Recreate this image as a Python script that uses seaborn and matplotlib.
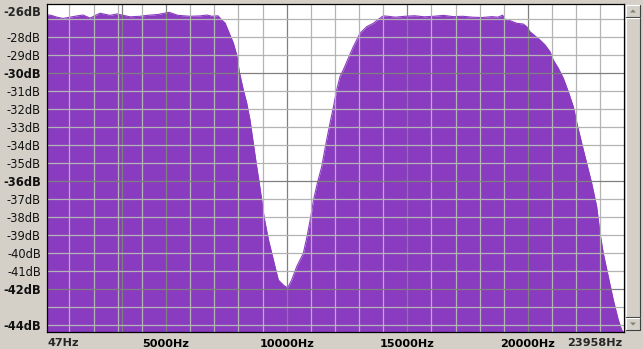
import matplotlib
matplotlib.use("Agg")
import matplotlib.pyplot as plt
import seaborn as sns
import numpy as np
from matplotlib.patches import Rectangle, Polygon

# ---------------- data ----------------
flat1_hz = [47, 192, 482, 731, 1021, 1311, 1560, 1850, 2264, 2679, 2968, 3507,
            3922, 4212, 4668, 5124, 5497, 5994, 6408, 6698, 6905, 7154]
flat1_db = [-26.80, -26.78, -26.90, -26.97, -26.90, -26.83, -26.78, -26.95, -26.68,
            -26.80, -26.72, -26.88, -26.85, -26.80, -26.75, -26.63, -26.80, -26.85,
            -26.83, -26.78, -26.85, -26.82]

notch_hz = [7307, 7444, 7651, 7788, 7929, 8037, 8202, 8343, 8480, 8617, 8758, 8865,
            8965, 9060, 9164, 9247, 9379, 9516, 9653, 9860, 10001, 10067, 10208,
            10415, 10689, 10842, 11000, 11111, 11269, 11451, 11629, 11795, 11940,
            12073, 12210, 12346, 12554, 12761, 12902, 13038, 13175, 13316, 13590,
            13797]
notch_db = [-27.06, -27.22, -27.89, -28.33, -29.00, -29.94, -30.94, -31.67, -32.61,
            -33.91, -35.21, -36.13, -37.06, -37.98, -38.72, -39.28, -40.00, -40.76,
            -41.50, -41.78, -41.91, -41.87, -41.50, -40.76, -40.02, -39.09, -37.98,
            -37.06, -36.13, -35.21, -33.91, -32.79, -31.87, -30.94, -30.20, -29.83,
            -29.18, -28.54, -28.17, -27.79, -27.61, -27.43, -27.24, -27.02]

flat2_hz = [14000, 14200, 14500, 14900, 15300, 15700, 16100, 16500, 16900, 17300,
            17700, 18100, 18500, 18750, 18950]
flat2_db = [-26.83, -26.85, -26.90, -26.85, -26.82, -26.88, -26.85, -26.80, -26.87,
            -26.85, -26.90, -26.92, -26.87, -26.90, -26.79]

rolloff_hz = [19047, 19254, 19532, 19806, 19946, 20083, 20291, 20498, 20705, 20912,
              21049, 21256, 21463, 21670, 21878, 22043, 22226, 22433, 22640, 22847,
              22984, 23121, 23328, 23535, 23742, 23883, 23958]
rolloff_db = [-27.02, -27.09, -27.24, -27.28, -27.43, -27.71, -27.94, -28.17, -28.44,
              -28.82, -29.28, -29.74, -30.29, -31.04, -31.87, -32.89, -33.91, -35.02,
              -36.13, -37.43, -38.91, -40.02, -41.32, -42.61, -43.72, -44.28, -44.40]

x_major = [5000, 10000, 15000, 20000]
x_edge_labels = ["47Hz", "23958Hz"]
y_ticks = list(range(-44, -26))
y_bold = [-44, -42, -36, -30]
y_unlabeled = [-43, -27]

freqs = np.array(flat1_hz + notch_hz + flat2_hz + rolloff_hz, dtype=float)
levels = np.array(flat1_db + notch_db + flat2_db + rolloff_db, dtype=float)

# ---------------- styling ----------------
sns.set_style("white")
plt.rcParams["font.family"] = ["DejaVu Sans"]

BG = "#d4d0c8"
PURPLE = "#8a3cc0"
GRID_L = "#b4b4b4"
GRID_D = "#808080"

W, H = 643, 349
fig = plt.figure(figsize=(W / 100, H / 100), dpi=100, facecolor=BG)
L, R, T, B = 46.5, 623.5, 3.5, 331.5
ax = fig.add_axes([L / W, (H - B) / H, (R - L) / W, (B - T) / H])
ax.set_facecolor("white")

XMIN, XMAX = 47, 23958
YMIN, YMAX = -44.36, -26.14
ax.set_xlim(XMIN, XMAX)
ax.set_ylim(YMIN, YMAX)

# spectrum fill
ax.fill_between(freqs, levels, YMIN - 1, color=PURPLE, linewidth=0, zorder=1)
sns.lineplot(x=freqs, y=levels, color=PURPLE, linewidth=0.8, ax=ax, zorder=1.5,
             estimator=None, sort=False)

# grid lines (drawn above the fill)
for f in range(1000, 24000, 1000):
    c = GRID_D if f in x_major else GRID_L
    ax.axvline(f, color=c, linewidth=0.9, zorder=3)
ax.axvline(3190, color=GRID_D, linewidth=0.9, zorder=3)
for d in y_ticks:
    c = GRID_D if d in (-42, -36, -30) else GRID_L
    ax.axhline(d, color=c, linewidth=0.9, zorder=3)

# ticks
ax.set_xticks(list(range(1000, 24000, 1000)))
ax.set_xticklabels([f"{f}Hz" if f in x_major else "" for f in range(1000, 24000, 1000)],
                   fontsize=8.1, fontweight="bold")
ax.set_yticks(y_ticks)
ylabels = []
for d in y_ticks:
    ylabels.append("" if d in y_unlabeled else f"{d}dB")
ax.set_yticklabels(ylabels, fontsize=8.3)
for lab, d in zip(ax.get_yticklabels(), y_ticks):
    if d in y_bold:
        lab.set_fontweight("bold")
ax.tick_params(axis="x", length=3, width=0.8, pad=2.5, colors="black")
ax.tick_params(axis="y", length=3, width=0.8, pad=1.0, colors="black")
ax.tick_params(axis="y", labelcolor="#111111")

for s in ax.spines.values():
    s.set_color("black")
    s.set_linewidth(0.9)
    s.set_zorder(5)

# edge labels
fig.text((L + 1) / W, (H - 343) / H, x_edge_labels[0], fontsize=8.1, fontweight="bold",
         ha="left", va="center")
fig.text((R - 1) / W, (H - 343) / H, x_edge_labels[1], fontsize=8.1, fontweight="bold",
         ha="right", va="center")
fig.text(41 / W, (H - 12) / H, "-26dB", fontsize=8.3, fontweight="bold",
         ha="right", va="center")

# scrollbar (UI decoration)
def px_rect(x0, y0, x1, y1, **kw):
    r = Rectangle((x0 / W, (H - y1) / H), (x1 - x0) / W, (y1 - y0) / H,
                  transform=fig.transFigure, **kw)
    fig.add_artist(r)

def bevel(x0, y0, x1, y1):
    px_rect(x0, y0, x1, y1, facecolor=BG, edgecolor="none")
    fig.add_artist(plt.Line2D([x0 / W, x0 / W], [(H - y0) / H, (H - y1) / H],
                              transform=fig.transFigure, color="white", lw=0.8))
    fig.add_artist(plt.Line2D([x0 / W, x1 / W], [(H - y0) / H, (H - y0) / H],
                              transform=fig.transFigure, color="white", lw=0.8))
    fig.add_artist(plt.Line2D([x1 / W, x1 / W], [(H - y0) / H, (H - y1) / H],
                              transform=fig.transFigure, color="#404040", lw=0.8))
    fig.add_artist(plt.Line2D([x0 / W, x1 / W], [(H - y1) / H, (H - y1) / H],
                              transform=fig.transFigure, color="#404040", lw=0.8))

bevel(626, 5, 640, 17)
bevel(626, 18, 640, 317)
bevel(626, 318, 640, 330)

def tri(cx, cy, up):
    s = 3
    if up:
        pts = [(cx - s, cy + 1.5), (cx + s, cy + 1.5), (cx, cy - 1.5)]
    else:
        pts = [(cx - s, cy - 1.5), (cx + s, cy - 1.5), (cx, cy + 1.5)]
    pts = [(x / W, (H - y) / H) for x, y in pts]
    fig.add_artist(Polygon(pts, closed=True, transform=fig.transFigure,
                           facecolor="#808080", edgecolor="none"))

tri(633, 11, True)
tri(633, 324, False)

fig.savefig("out.png", dpi=100, facecolor=BG)
